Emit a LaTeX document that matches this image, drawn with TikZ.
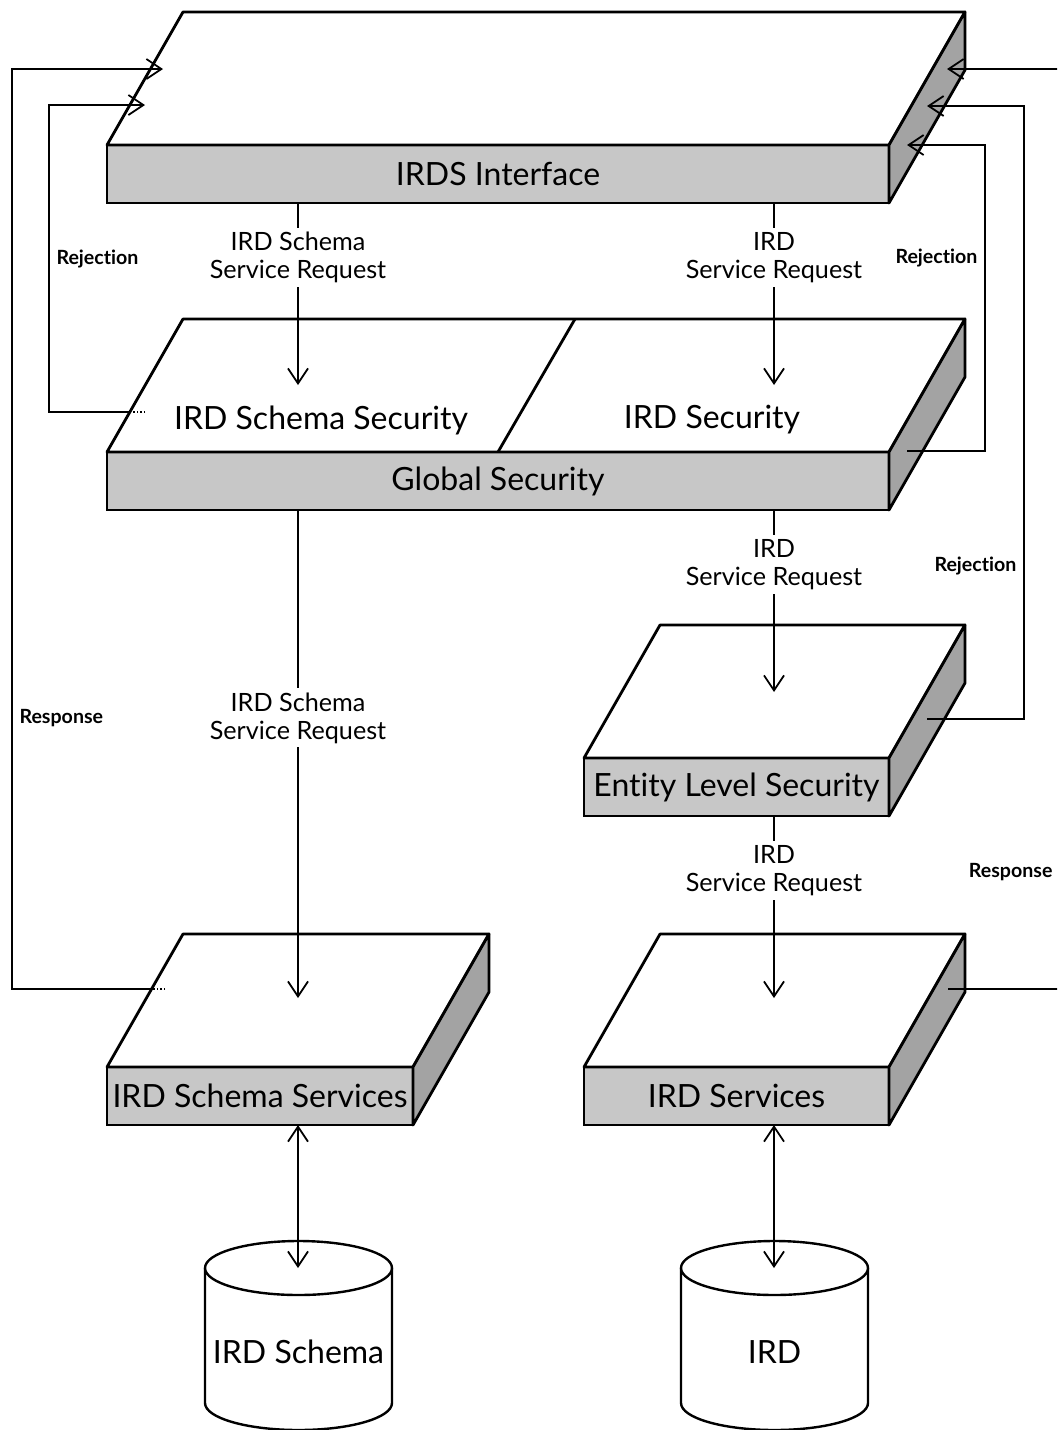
\documentclass[tikz,border=0pt]{standalone}
\usepackage{fontspec}
\setmainfont{Lato}[Ligatures=NoCommon]
\usepackage{tikz}
\usetikzlibrary{arrows.meta}

% top and side faces of a slab, from its front face node
\newcommand{\slabfaces}[1]{%
  \filldraw[top face] (#1.north west) -- ++(76,-133) -- ([shift={(76,-133)}]#1.north east) -- (#1.north east) -- cycle;
  \filldraw[side face] (#1.north east) -- ++(76,-133) -- ++(0,58) -- (#1.south east) -- cycle;
}

\begin{document}
\begin{tikzpicture}[x=0.5pt,y=-0.5pt,>={Straight Barb[length=7.5pt,width=10pt]},
                    slab/.style={draw,line width=1.4pt,fill=black!22,inner sep=0pt,outer sep=0pt,
                                 minimum height=29pt,font=\fontsize{16}{19}\selectfont},
                    top face/.style={line width=1.4pt,fill=white,line join=round},
                    side face/.style={line width=1.4pt,fill=black!36,line join=round},
                    big text/.style={font=\fontsize{16}{19}\selectfont},
                    flow/.style={->,line width=0.9pt},
                    request/.style={fill=white,align=center,inner sep=2pt,font=\fontsize{12.6}{14}\selectfont},
                    note/.style={font=\bfseries\fontsize{9.8}{11}\selectfont},
                    store/.style={draw,line width=1.2pt,fill=white}]

    \clip (0,0) rectangle (1057,1430);
    \fill[white] (0,0) rectangle (1057,1430);

    % slabs
    \node[slab,minimum width=391pt] (irds) at (498,174) {IRDS Interface};
    \slabfaces{irds}

    \node[slab,minimum width=391pt] (global) at (498,481) {Global Security};
    \slabfaces{global}
    \draw[line width=1.4pt] (global.north) -- ++(77,-133);
    \node[big text] (schemasec) at (321,420) {IRD Schema Security};
    \node[big text] (irdsec) at (712,420) {IRD Security};

    \node[slab,minimum width=152.5pt] (entity) at (736.5,787) {Entity Level Security};
    \slabfaces{entity}

    \node[slab,minimum width=153pt] (schemasrv) at (260,1096) {IRD Schema Services};
    \slabfaces{schemasrv}

    \node[slab,minimum width=152.5pt] (irdsrv) at (736.5,1096) {IRD Services};
    \slabfaces{irdsrv}

    % stores
    \draw[store] (205,1268) -- (205,1403) arc[start angle=180,end angle=0,x radius=93.5,y radius=27] -- (392,1268);
    \draw[store] (298.5,1268) ellipse[x radius=93.5,y radius=27];
    \node[big text] (schemadb) at (298.5,1352) {IRD Schema};

    \draw[store] (681,1268) -- (681,1403) arc[start angle=180,end angle=0,x radius=93.5,y radius=27] -- (868,1268);
    \draw[store] (774.5,1268) ellipse[x radius=93.5,y radius=27];
    \node[big text] (irddb) at (774.5,1352) {IRD};

    % requests
    \coordinate (schemaReq) at (298,385);
    \coordinate (irdReq) at (774,385);
    \coordinate (schemaSrvIn) at (298,998);
    \coordinate (entityIn) at (774,692);
    \coordinate (irdSrvIn) at (774,998);
    \coordinate (schemaTop) at (298,1268);
    \coordinate (irdTop) at (774,1268);

    \draw[flow] (irds.south -| schemaReq) -- node[request,pos=.3] {IRD Schema\\Service Request} (schemaReq);
    \draw[flow] (irds.south -| irdReq) -- node[request,pos=.3] {IRD\\Service Request} (irdReq);
    \draw[flow] (global.south -| schemaSrvIn) -- node[request,pos=.426] {IRD Schema\\Service Request} (schemaSrvIn);
    \draw[flow] (global.south -| entityIn) -- node[request,pos=.3] {IRD\\Service Request} (entityIn);
    \draw[flow] (entity.south -| irdSrvIn) -- node[request,pos=.3] {IRD\\Service Request} (irdSrvIn);
    \draw[flow,<->] (schemasrv.south -| schemaTop) -- (schemaTop);
    \draw[flow,<->] (irdsrv.south -| irdTop) -- (irdTop);

    % rejections and responses
    \coordinate (irdsIn1) at (163,69);
    \coordinate (irdsIn2) at (145,105);
    \coordinate (irdsIn3) at (947,69);
    \coordinate (irdsIn4) at (927,106);
    \coordinate (irdsIn5) at (907,145);
    \coordinate (schemaSecOut) at (145,412);
    \coordinate (globalOut) at (907,451);
    \coordinate (entityOut) at (927,719);
    \coordinate (schemaSrvOut) at (165,989);
    \coordinate (irdSrvOut) at (948,989);

    \draw[densely dotted,line width=.7pt] (schemaSecOut) -- ++(-15,0) coordinate (schemaSecEdge);
    \draw[flow] (schemaSecEdge) -- ++(-81,0) -- node[note,right] {Rejection} ++(0,-307) -- (irdsIn2);
    \draw[flow] (globalOut) -- ++(78,0) -- node[note,left,pos=.63] {Rejection} ++(0,-306) -- (irdsIn5);
    \draw[flow] (entityOut) -- ++(97,0) -- node[note,left,pos=.25] {Rejection} ++(0,-613) -- (irdsIn4);
    \draw[densely dotted,line width=.7pt] (schemaSrvOut) -- ++(-14,0) coordinate (schemaSrvEdge);
    \draw[flow] (schemaSrvEdge) -- ++(-139,0) -- node[note,right,pos=.295] {Response} ++(0,-920) -- (irdsIn1);
    \draw[flow] (irdSrvOut) -- ++(112,0) -- node[note,left,pos=.127] {Response} ++(0,-920) -- (irdsIn3);

\end{tikzpicture}
\end{document}
